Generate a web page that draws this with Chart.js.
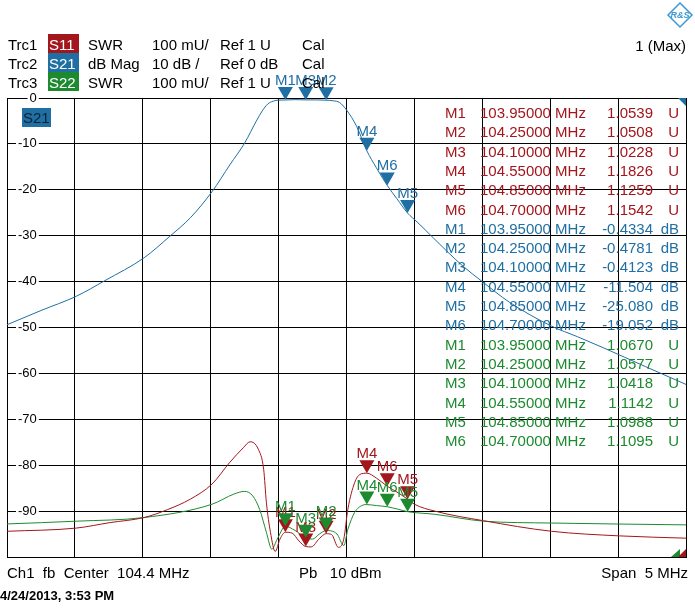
<!DOCTYPE html>
<html>
<head>
<meta charset="utf-8">
<title>S21 / S11 / S22 filter sweep</title>
<script src="https://cdn.jsdelivr.net/npm/chart.js@4.4.1/dist/chart.umd.min.js"></script>
<style>
  html, body { margin: 0; padding: 0; background: #fff; overflow: hidden; }
  #wrap { width: 695px; height: 613px; position: relative; }
</style>
</head>
<body>
<div id="wrap"><canvas id="vna"></canvas></div>
<script>
// sweep settings
const centerMHz = 104.4;
const spanMHz = 5;

// Trc2: S21 dB Mag
const s21Freq = [101.90, 102.15, 102.41, 102.62, 102.91, 103.10, 103.25, 103.41, 103.54, 103.65,
                 103.74, 103.78, 103.82, 103.86, 103.90, 103.95, 104.02, 104.10, 104.18, 104.25,
                 104.30, 104.35, 104.40, 104.475, 104.55, 104.62, 104.70, 104.77, 104.85, 104.92,
                 105.04, 105.14, 105.26, 105.40, 105.60, 105.91, 106.10, 106.29, 106.60, 106.90];
const s21Db   = [-49.4, -46.3, -43.2, -39.8, -34.8, -30.1, -26.1, -20.4, -14.6, -9.8,
                 -4.8, -2.8, -1.3, -0.7, -0.45, -0.4334, -0.36, -0.4123, -0.42, -0.4781,
                 -0.6, -1.0, -2.6, -6.2, -11.504, -15.2, -19.052, -21.9, -25.080, -27.0,
                 -30.5, -33.4, -36.7, -40.0, -44.5, -49.7, -52.0, -54.4, -58.5, -62.4];

// Trc1: S11 SWR
const s11Freq = [101.90, 102.41, 102.66, 102.91, 103.08, 103.25, 103.41, 103.54, 103.64, 103.69,
                 103.75, 103.79, 103.81, 103.84, 103.875, 103.91, 103.95, 104.00, 104.05, 104.10,
                 104.14, 104.20, 104.25, 104.29, 104.34, 104.38, 104.41, 104.46, 104.50, 104.55,
                 104.62, 104.70, 104.78, 104.85, 104.90, 105.05, 105.41, 105.91, 106.41, 106.90];
const s11Swr  = [1.056, 1.063, 1.075, 1.086, 1.103, 1.126, 1.159, 1.206, 1.238, 1.251,
                 1.235, 1.191, 1.119, 1.054, 1.012, 1.039, 1.0539, 1.052, 1.035, 1.0228,
                 1.022, 1.040, 1.0508, 1.049, 1.021, 1.039, 1.104, 1.162, 1.180, 1.1826,
                 1.172, 1.1542, 1.140, 1.1259, 1.115, 1.100, 1.079, 1.056, 1.046, 1.041];

// Trc3: S22 SWR
const s22Freq = [101.90, 102.41, 102.91, 103.41, 103.57, 103.65, 103.71, 103.76, 103.81, 103.85,
                 103.89, 103.95, 104.02, 104.10, 104.15, 104.20, 104.25, 104.33, 104.38, 104.41,
                 104.46, 104.52, 104.55, 104.62, 104.70, 104.78, 104.85, 105.05, 105.41, 105.91,
                 106.90];
const s22Swr  = [1.072, 1.078, 1.086, 1.115, 1.137, 1.143, 1.133, 1.104, 1.054, 1.017,
                 1.039, 1.0670, 1.058, 1.0418, 1.039, 1.050, 1.0577, 1.050, 1.025, 1.060,
                 1.097, 1.113, 1.1142, 1.112, 1.1095, 1.104, 1.0988, 1.093, 1.078, 1.074,
                 1.070];

// markers
const markerNames = ['M1', 'M2', 'M3', 'M4', 'M5', 'M6'];
const markerFreqs = [103.95, 104.25, 104.10, 104.55, 104.85, 104.70];
const s11Markers = [1.0539, 1.0508, 1.0228, 1.1826, 1.1259, 1.1542];
const s21Markers = [-0.4334, -0.4781, -0.4123, -11.504, -25.080, -19.052];
const s22Markers = [1.0670, 1.0577, 1.0418, 1.1142, 1.0988, 1.1095];

const RED = '#a3161c';
const BLUE = '#1f6fa3';
const GREEN = '#1d8a2f';
const FONT = '"Liberation Sans", Arial, sans-serif';

function pts(xs, ys) {
    return xs.map((x, i) => ({ x: x, y: ys[i] }));
}

function fmtVal(v) {
    const intLen = String(Math.floor(Math.abs(v))).length;
    return v.toFixed(5 - intLen);
}

function drawMarkers(ctx, xs, ys, vals, color) {
    ctx.save();
    ctx.fillStyle = color;
    ctx.font = '15px ' + FONT;
    ctx.textAlign = 'center';
    ctx.textBaseline = 'alphabetic';
    markerNames.forEach((name, i) => {
        const px = xs.getPixelForValue(markerFreqs[i]);
        const py = ys.getPixelForValue(vals[i]);
        ctx.beginPath();
        ctx.moveTo(px - 7.5, py - 13);
        ctx.lineTo(px + 7.5, py - 13);
        ctx.lineTo(px, py);
        ctx.closePath();
        ctx.fill();
        ctx.fillText(name, px, py - 15);
    });
    ctx.restore();
}

// markers, readout table and the analyzer's screen text
const vnaPlugin = {
    id: 'vnaScreen',
    afterDatasetsDraw(chart) {
        const ctx = chart.ctx;
        const { x, y, ySwr } = chart.scales;
        drawMarkers(ctx, x, y, s21Markers, BLUE);
        drawMarkers(ctx, x, ySwr, s11Markers, RED);
        drawMarkers(ctx, x, ySwr, s22Markers, GREEN);

        // marker readout
        const traces = [
            { vals: s11Markers, color: RED, unit: 'U' },
            { vals: s21Markers, color: BLUE, unit: 'dB' },
            { vals: s22Markers, color: GREEN, unit: 'U' }
        ];
        ctx.save();
        ctx.font = '15px ' + FONT;
        let row = 0;
        traces.forEach(t => {
            ctx.fillStyle = t.color;
            markerNames.forEach((name, i) => {
                const by = 118 + row * 19.3;
                ctx.textAlign = 'left';
                ctx.fillText(name, 445, by);
                ctx.fillText(markerFreqs[i].toFixed(5) + ' MHz', 480, by);
                ctx.textAlign = 'right';
                ctx.fillText(fmtVal(t.vals[i]), 653, by);
                ctx.fillText(t.unit, 679, by);
                row++;
            });
        });
        ctx.restore();

        // reference position flags
        const a = chart.chartArea;
        const r0 = y.getPixelForValue(0);
        const r1 = ySwr.getPixelForValue(1);
        ctx.save();
        ctx.fillStyle = BLUE;
        ctx.beginPath();
        ctx.moveTo(a.right - 8, r0); ctx.lineTo(a.right, r0); ctx.lineTo(a.right, r0 + 8);
        ctx.fill();
        ctx.fillStyle = GREEN;
        ctx.beginPath();
        ctx.moveTo(a.right - 15, r1); ctx.lineTo(a.right - 6, r1 - 8); ctx.lineTo(a.right - 6, r1);
        ctx.fill();
        ctx.fillStyle = RED;
        ctx.beginPath();
        ctx.moveTo(a.right - 8, r1); ctx.lineTo(a.right, r1 - 8); ctx.lineTo(a.right, r1);
        ctx.fill();

        // active trace label
        ctx.fillStyle = BLUE;
        ctx.fillRect(a.left + 15, a.top + 10, 29, 19);
        ctx.fillStyle = '#0b2236';
        ctx.font = '15px ' + FONT;
        ctx.textAlign = 'left';
        ctx.fillText('S21', a.left + 16, a.top + 25);
        ctx.restore();
    },
    afterDraw(chart) {
        const ctx = chart.ctx;
        ctx.save();
        ctx.font = '15px ' + FONT;
        ctx.textBaseline = 'alphabetic';
        const head = [
            ['Trc1', 'S11', RED, 'SWR', '100 mU/', 'Ref 1 U', 'Cal'],
            ['Trc2', 'S21', BLUE, 'dB Mag', '10 dB /', 'Ref 0 dB', 'Cal'],
            ['Trc3', 'S22', GREEN, 'SWR', '100 mU/', 'Ref 1 U', 'Cal']
        ];
        head.forEach((h, i) => {
            const by = 50 + i * 19;
            ctx.fillStyle = h[2];
            ctx.fillRect(48, 34 + i * 19, 31, 19);
            ctx.fillStyle = '#fff';
            ctx.textAlign = 'left';
            ctx.fillText(h[1], 49, by);
            ctx.fillStyle = '#000';
            ctx.fillText(h[0], 8, by);
            ctx.fillText(h[3], 88, by);
            ctx.fillText(h[4], 152, by);
            ctx.fillText(h[5], 220, by);
            ctx.fillText(h[6], 302, by);
        });
        ctx.textAlign = 'right';
        ctx.fillText('1 (Max)', 686, 51);

        // footer
        ctx.textAlign = 'left';
        ctx.fillText('Ch1  fb  Center  104.4 MHz', 7, 578);
        ctx.fillText('Pb   10 dBm', 299, 578);
        ctx.textAlign = 'right';
        ctx.fillText('Span  5 MHz', 688, 578);
        ctx.textAlign = 'left';
        ctx.font = 'bold 13px ' + FONT;
        ctx.fillText('4/24/2013, 3:53 PM', 0, 600);

        // R&S badge
        ctx.translate(680, 15);
        ctx.strokeStyle = '#3c9ad2';
        ctx.lineWidth = 1.5;
        ctx.beginPath();
        ctx.moveTo(0, -12); ctx.lineTo(12, 0); ctx.lineTo(0, 12); ctx.lineTo(-12, 0);
        ctx.closePath();
        ctx.stroke();
        ctx.fillStyle = '#3c9ad2';
        ctx.font = 'italic bold 9px ' + FONT;
        ctx.textAlign = 'center';
        ctx.fillText('R&S', 0, 3);
        ctx.restore();
    }
};

const xMin = centerMHz - spanMHz / 2;
const xMax = centerMHz + spanMHz / 2;

const ctx = document.getElementById('vna').getContext('2d');
const chart = new Chart(ctx, {
    type: 'line',
    data: {
        datasets: [
            { label: 'S21', data: pts(s21Freq, s21Db), yAxisID: 'y', borderColor: BLUE },
            { label: 'S11', data: pts(s11Freq, s11Swr), yAxisID: 'ySwr', borderColor: RED },
            { label: 'S22', data: pts(s22Freq, s22Swr), yAxisID: 'ySwr', borderColor: GREEN }
        ]
    },
    options: {
        responsive: true,
        maintainAspectRatio: false,
        animation: false,
        layout: { padding: { left: 7, top: 98, right: 9, bottom: 56 } },
        elements: {
            point: { radius: 0 },
            line: { borderWidth: 1, cubicInterpolationMode: 'monotone' }
        },
        plugins: { legend: { display: false }, tooltip: { enabled: false } },
        scales: {
            x: {
                type: 'linear',
                min: xMin,
                max: xMax,
                ticks: { display: false, stepSize: 0.5 },
                grid: { color: '#000', drawTicks: false },
                border: { color: '#000' },
                afterFit: s => { s.height = 0; }
            },
            y: {
                position: 'left',
                min: -100,
                max: 0,
                ticks: {
                    stepSize: 10,
                    mirror: true,
                    crossAlign: 'far',
                    padding: 11,
                    color: '#000',
                    font: { family: FONT, size: 13 },
                    showLabelBackdrop: true,
                    backdropColor: '#fff',
                    backdropPadding: { x: 2, y: 0 },
                    callback: v => (v === -100 ? null : String(v))
                },
                grid: { color: '#000', drawTicks: false },
                border: { color: '#000' },
                afterFit: s => { s.width = 0; }
            },
            ySwr: {
                display: false,
                min: 1,
                max: 2
            }
        }
    },
    plugins: [vnaPlugin]
});
</script>
</body>
</html>
